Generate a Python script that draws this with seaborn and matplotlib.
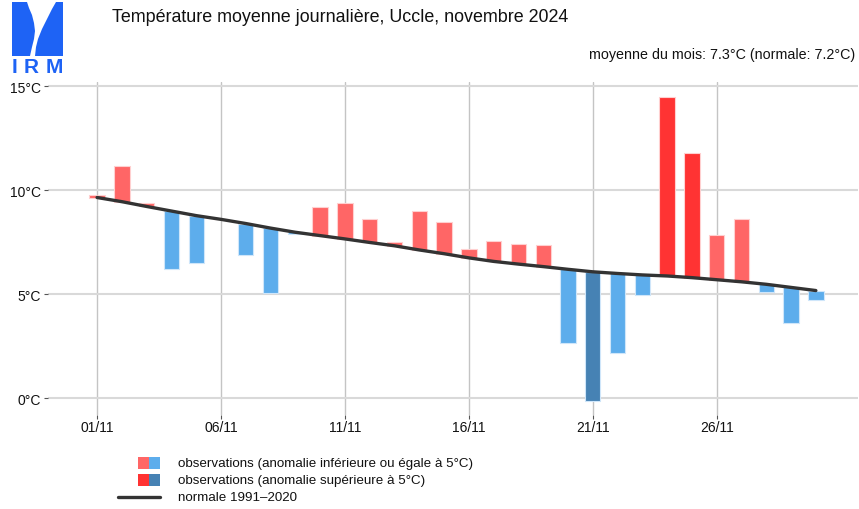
import numpy as np
import pandas as pd
import matplotlib
matplotlib.use("Agg")
import matplotlib.pyplot as plt
from matplotlib.patches import Rectangle, Polygon
from matplotlib.lines import Line2D
import seaborn as sns

# ---------------- data ----------------
days = list(range(1, 31))
observed = [9.75, 11.15, 9.40, 6.23, 6.50, 8.60, 6.89, 5.08, 7.90, 9.20,
            9.39, 8.61, 7.53, 8.99, 8.49, 7.20, 7.55, 7.42, 7.37, 2.64,
            -0.13, 2.18, 4.95, 14.50, 11.78, 7.84, 8.62, 5.11, 3.64, 4.73]
normal = [9.65, 9.45, 9.22, 9.00, 8.78, 8.60, 8.40, 8.18, 7.98, 7.82,
          7.66, 7.49, 7.33, 7.13, 6.95, 6.75, 6.58, 6.45, 6.33, 6.20,
          6.08, 6.00, 5.93, 5.88, 5.80, 5.70, 5.60, 5.48, 5.33, 5.18]
xtick_days = [1, 6, 11, 16, 21, 26]
xtick_labels = ["01/11", "06/11", "11/11", "16/11", "21/11", "26/11"]
ytick_vals = [0, 5, 10, 15]
ytick_labels = ["0°C", "5°C", "10°C", "15°C"]
title = "Température moyenne journalière, Uccle, novembre 2024"
subtitle = "moyenne du mois: 7.3°C (normale: 7.2°C)"
legend_labels = ["observations (anomalie inférieure ou égale à 5°C)",
                 "observations (anomalie supérieure à 5°C)",
                 "normale 1991\u20132020"]

LIGHT_RED, BRIGHT_RED = "#FF6666", "#FF3333"
LIGHT_BLUE, DARK_BLUE = "#5DADEC", "#4682B4"
LINE_COL = "#333333"

df = pd.DataFrame({"day": days, "obs": observed, "normal": normal})
df["anom"] = df["obs"] - df["normal"]

def bar_color(a):
    if a > 5:
        return BRIGHT_RED
    if a >= 0:
        return LIGHT_RED
    if a < -5:
        return DARK_BLUE
    return LIGHT_BLUE

def edge_color(a):
    return "#FFD0D0" if a >= 0 else "#CFE6FA"

sns.set_theme(style="white")
plt.rcParams["font.family"] = ["Liberation Sans", "DejaVu Sans"]

W, H = 859, 510
fig = plt.figure(figsize=(W / 100, H / 100), dpi=100)
L, R, T, B = 48, 858, 83, 416
ax = fig.add_axes([L / W, (H - B) / H, (R - L) / W, (B - T) / H])

# bars from normal to observation
ax.bar(df["day"], df["anom"], bottom=df["normal"], width=0.62,
       color=[bar_color(a) for a in df["anom"]],
       edgecolor=[edge_color(a) for a in df["anom"]], linewidth=0.8, zorder=3)

sns.lineplot(data=df, x="day", y="normal", color=LINE_COL, linewidth=2.4,
             ax=ax, zorder=4)

ax.set_xlim(-0.98, 31.7)
ax.set_ylim(-0.8, 15.2)
ax.set_xticks(xtick_days)
ax.set_xticklabels(xtick_labels)
ax.set_yticks(ytick_vals)
ax.set_yticklabels(ytick_labels)
ax.set_xlabel("")
ax.set_ylabel("")
for s in ax.spines.values():
    s.set_visible(False)
ax.tick_params(axis="both", which="both", length=3, width=0.8, color="#555555",
               labelsize=10, labelcolor="#111111", pad=2)
ax.tick_params(axis="x", bottom=True, pad=0.5)
ax.tick_params(axis="y", left=True)
ax.set_axisbelow(True)
ax.yaxis.grid(True, color="#D9D9D9", linewidth=1.5)
ax.xaxis.grid(True, color="#C4C4C4", linewidth=1.0)

# overlay in pixel coordinates for logo, titles and legend
ov = fig.add_axes([0, 0, 1, 1], zorder=10)
ov.set_xlim(0, W)
ov.set_ylim(H, 0)
ov.axis("off")
ov.patch.set_alpha(0)

LOGO = "#1E63F5"
ov.add_patch(Rectangle((12, 3), 51, 54, facecolor=LOGO, edgecolor="none"))
white_channel = [(27, 3), (56, 3), (52, 10), (47, 20), (42, 30), (38, 40),
                 (36, 48), (35, 57), (30, 57), (32, 48), (34, 40), (35, 32),
                 (34, 24), (32, 16), (29, 9)]
ov.add_patch(Polygon(white_channel, closed=True, facecolor="white", edgecolor="none"))
for letter, lx in [("I", 14.3), ("R", 31), ("M", 54)]:
    ov.text(lx, 67.5, letter, color=LOGO, fontsize=15, ha="center",
            va="center", fontweight="bold")

ov.text(112, 18, title, fontsize=12.9, color="#111111", ha="left", va="center")
ov.text(855, 55, subtitle, fontsize=10.3, color="#111111", ha="right", va="center")

# legend
ov.add_patch(Rectangle((138, 458), 11, 12, facecolor=LIGHT_RED, edgecolor="none"))
ov.add_patch(Rectangle((149, 458), 11, 12, facecolor=LIGHT_BLUE, edgecolor="none"))
ov.add_patch(Rectangle((138, 475), 11, 12, facecolor=BRIGHT_RED, edgecolor="none"))
ov.add_patch(Rectangle((149, 475), 11, 12, facecolor=DARK_BLUE, edgecolor="none"))
ov.add_line(Line2D([118, 160], [498, 498], color=LINE_COL, linewidth=2.4))
for i, lab in enumerate(legend_labels):
    ov.text(178, 464 + 17 * i, lab, fontsize=9.6, color="#111111",
            ha="left", va="center")

fig.savefig("out.png", dpi=100)
